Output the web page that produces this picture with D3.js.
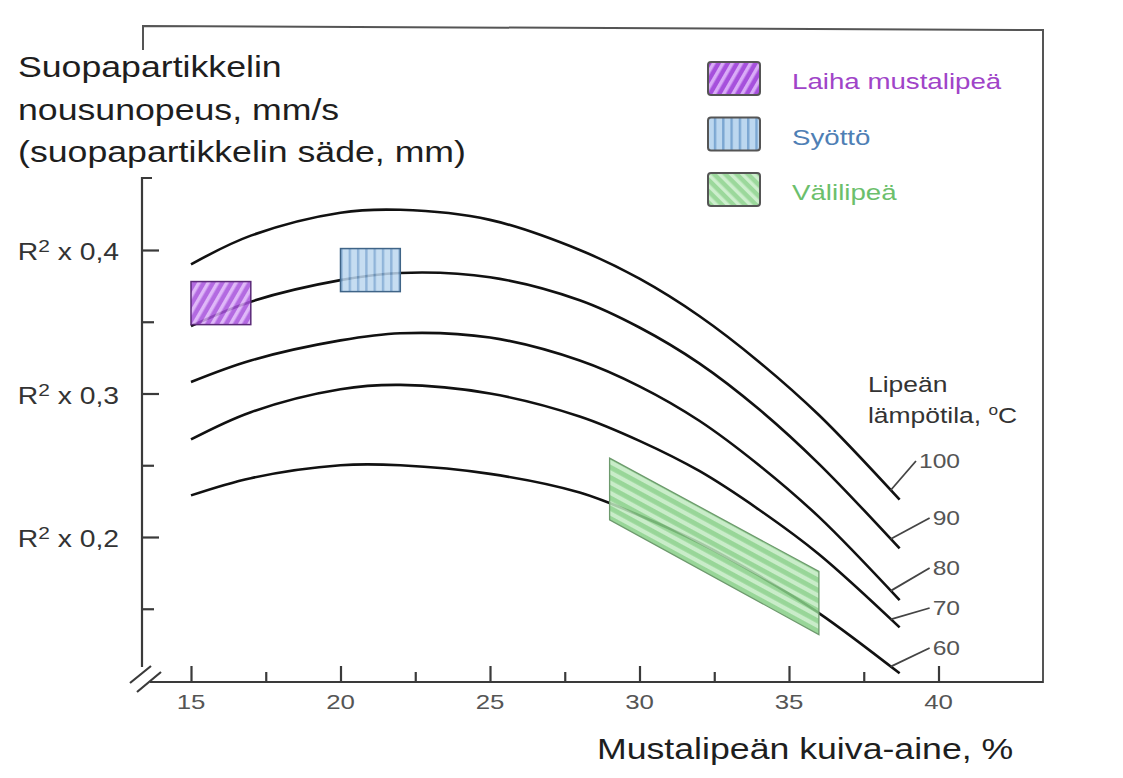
<!DOCTYPE html>
<html>
<head>
<meta charset="utf-8">
<script src="https://cdn.jsdelivr.net/npm/d3@7"></script>
<style>
  html, body { margin: 0; padding: 0; background: #ffffff; }
  svg { display: block; }
</style>
</head>
<body>
<svg id="chart" width="1123" height="778"></svg>
<script>
// ---- data -------------------------------------------------------------
// Dry solids content of black liquor, %
const solidsContent = [15, 17, 20, 22, 25, 28, 30, 32, 34, 36, 38.7];
// Rise velocity of soap particles (as multiple of R^2) per liquor temperature
const rise100 = [0.390, 0.410, 0.426, 0.428, 0.421, 0.400, 0.380, 0.354, 0.322, 0.285, 0.226];
const rise90  = [0.347, 0.364, 0.379, 0.384, 0.381, 0.365, 0.346, 0.321, 0.289, 0.251, 0.192];
const rise80  = [0.308, 0.323, 0.337, 0.342, 0.339, 0.323, 0.305, 0.281, 0.250, 0.214, 0.156];
const rise70  = [0.268, 0.287, 0.303, 0.306, 0.300, 0.284, 0.267, 0.246, 0.219, 0.188, 0.137];
const rise60  = [0.229, 0.241, 0.250, 0.250, 0.244, 0.231, 0.215, 0.196, 0.173, 0.147, 0.105];
const temperatures = ["100", "90", "80", "70", "60"];
const riseSeries = [rise100, rise90, rise80, rise70, rise60];

// Liquor zones (solids range and rise-velocity range)
const weakLiquorX = [15, 17];
const weakLiquorY = [0.348, 0.378];
const feedX = [20, 22];
const feedY = [0.371, 0.401];
const intermediateX = [29, 36];
const intermediateTop = [0.255, 0.176];
const intermediateBottom = [0.212, 0.132];

// Axis ticks and labels
const xMajorTicks = [15, 20, 25, 30, 35, 40];
const xMinorTicks = [17.5, 22.5, 27.5, 32.5, 37.5];
const yMajorTicks = [0.2, 0.3, 0.4];
const yMinorTicks = [0.15, 0.25, 0.35];
const yTickLabels = ["0,2", "0,3", "0,4"];

const legendLabels = ["Laiha mustalipeä", "Syöttö", "Välilipeä"];
const titleLines = ["Suopapartikkelin", "nousunopeus, mm/s", "(suopapartikkelin säde, mm)"];
const xTitle = "Mustalipeän kuiva-aine, %";

// ---- layout -----------------------------------------------------------
const SX = 1.23;                 // horizontal stretch of lettering
const FONT = "'Liberation Sans', Arial, sans-serif";
const INK = "#1e1e1e";
const tempLabelBaseline = [468, 525, 575, 615, 655];

const svg = d3.select("#chart");
const x = d3.scaleLinear().domain([15, 40]).range([191, 938.5]);
const y = d3.scaleLinear().domain([0.2, 0.4]).range([537, 250]);

function stretchedText(parent, px, py, size, anchor, color) {
  return parent.append("text")
    .attr("transform", `translate(${px},${py}) scale(${SX},1)`)
    .attr("font-family", FONT)
    .attr("font-size", size)
    .attr("text-anchor", anchor)
    .attr("fill", color);
}

// ---- hatch patterns ---------------------------------------------------
const defs = svg.append("defs");
function stripes(id, period, stripeW, base, stripe, angle) {
  const p = defs.append("pattern")
    .attr("id", id)
    .attr("patternUnits", "userSpaceOnUse")
    .attr("width", period).attr("height", period)
    .attr("patternTransform", `rotate(${angle})`);
  p.append("rect").attr("width", period).attr("height", period).attr("fill", base);
  p.append("rect").attr("width", stripeW).attr("height", period).attr("fill", stripe);
}
stripes("hatchWeak", 8, 3.5, "#a650dc", "#d9abf7", 30);
stripes("hatchFeed", 8.3, 2.4, "#bcd7ef", "#7ca7d2", 0);
stripes("hatchInter", 9, 4.2, "#86cf86", "#bfe9bf", -61.5);
stripes("hatchInterKey", 8, 3.5, "#9bd89b", "#cdeecd", -45);

// ---- frame and axes ---------------------------------------------------
const frame = svg.append("g").attr("fill", "none").attr("stroke", "#555").attr("stroke-width", 2);
frame.append("path").attr("d", "M143,50 L143,26 L1043,30 L1043,683");

const axisColor = "#3a3a3a";
const axes = svg.append("g").attr("fill", "none").attr("stroke", axisColor).attr("stroke-width", 2.2);
axes.append("path").attr("d", "M152,178 L142,178 L142,667");
axes.append("path").attr("d", `M150,682 L1043,682`);
// axis break
axes.append("path").attr("d", "M130,683 L151,666 M137,692 L161,672");

function tickAxis(axisFn, scale, values, size, tx, ty) {
  const g = svg.append("g").attr("transform", `translate(${tx},${ty})`)
    .call(axisFn(scale).tickValues(values).tickSize(size).tickFormat(""));
  g.select(".domain").remove();
  g.selectAll(".tick line").attr("stroke", axisColor).attr("stroke-width", 2.2);
  return g;
}
tickAxis(d3.axisRight, y, yMajorTicks, 17, 142, 0);
tickAxis(d3.axisRight, y, yMinorTicks, 12, 142, 0);
tickAxis(d3.axisTop, x, xMajorTicks, 16, 0, 682);
tickAxis(d3.axisTop, x, xMinorTicks, 10, 0, 682);

// x tick labels
xMajorTicks.forEach(v => {
  stretchedText(svg, x(v), 709, 21, "middle", "#555").text(v);
});

// y tick labels: R² x value
yMajorTicks.forEach((v, i) => {
  const t = stretchedText(svg, 119, y(v) + 10, 23, "end", "#333");
  t.append("tspan").text("R");
  t.append("tspan").attr("font-size", 17).attr("dy", -8).text("2");
  t.append("tspan").attr("dy", 8).text(" x " + yTickLabels[i]);
});

// ---- curves -----------------------------------------------------------
const line = d3.line()
  .x(d => x(d[0]))
  .y(d => y(d[1]))
  .curve(d3.curveCatmullRom.alpha(0.5));

const curves = svg.append("g");
riseSeries.forEach(series => {
  curves.append("path")
    .datum(d3.zip(solidsContent, series))
    .attr("d", line)
    .attr("fill", "none")
    .attr("stroke", "#111")
    .attr("stroke-width", 2.6);
});

// ---- liquor zones -----------------------------------------------------
const zones = svg.append("g");
zones.append("rect")
  .attr("x", x(weakLiquorX[0])).attr("y", y(weakLiquorY[1]))
  .attr("width", x(weakLiquorX[1]) - x(weakLiquorX[0]))
  .attr("height", y(weakLiquorY[0]) - y(weakLiquorY[1]))
  .attr("fill", "url(#hatchWeak)").attr("fill-opacity", 0.85)
  .attr("stroke", "#5b2a78").attr("stroke-width", 1.5);

zones.append("rect")
  .attr("x", x(feedX[0])).attr("y", y(feedY[1]))
  .attr("width", x(feedX[1]) - x(feedX[0]))
  .attr("height", y(feedY[0]) - y(feedY[1]))
  .attr("fill", "url(#hatchFeed)").attr("fill-opacity", 0.85)
  .attr("stroke", "#3f6487").attr("stroke-width", 1.5);

const band = [
  [intermediateX[0], intermediateTop[0]],
  [intermediateX[1], intermediateTop[1]],
  [intermediateX[1], intermediateBottom[1]],
  [intermediateX[0], intermediateBottom[0]]
];
zones.append("path")
  .attr("d", "M" + band.map(d => [x(d[0]), y(d[1])].join(",")).join("L") + "Z")
  .attr("fill", "url(#hatchInter)").attr("fill-opacity", 0.85)
  .attr("stroke", "#6d9a6d").attr("stroke-width", 1.3);

// ---- temperature labels with leaders -----------------------------------
stretchedText(svg, 868, 392, 21.5, "start", "#333").text("Lipeän");
const tl = stretchedText(svg, 868, 423, 21.5, "start", "#333");
tl.append("tspan").text("lämpötila, ");
tl.append("tspan").attr("font-size", 14).attr("dy", -8).text("o");
tl.append("tspan").attr("dy", 8).text("C");

const nEnd = solidsContent.length - 1;
temperatures.forEach((lbl, i) => {
  const s = riseSeries[i];
  const x0 = solidsContent[nEnd - 1], x1 = solidsContent[nEnd];
  const t = (38.4 - x0) / (x1 - x0);
  const sx = x(38.4);
  const sy = y(s[nEnd - 1] + (s[nEnd] - s[nEnd - 1]) * t);
  const txt = stretchedText(svg, 960, tempLabelBaseline[i], 20, "end", "#555").text(lbl);
  const w = txt.node().getComputedTextLength() * SX;
  svg.append("line")
    .attr("x1", sx).attr("y1", sy)
    .attr("x2", 960 - w - 3).attr("y2", tempLabelBaseline[i] - 7)
    .attr("stroke", "#444").attr("stroke-width", 1.8);
});

// ---- axis titles --------------------------------------------------------
titleLines.forEach((s, i) => {
  stretchedText(svg, 18, 77 + i * 42.5, 29, "start", INK).text(s);
});
stretchedText(svg, 597, 759, 29, "start", INK).text(xTitle);

// ---- legend -----------------------------------------------------------
const legendFills = ["url(#hatchWeak)", "url(#hatchFeed)", "url(#hatchInterKey)"];
const legendText = ["#a044c8", "#4f7fb5", "#6cbf6c"];
const legend = svg.append("g");
legendLabels.forEach((lbl, i) => {
  const cy = 79 + i * 55.5;
  legend.append("rect")
    .attr("x", 708).attr("y", cy - 17).attr("width", 52).attr("height", 33)
    .attr("rx", 3)
    .attr("fill", legendFills[i])
    .attr("stroke", "#555").attr("stroke-width", 2);
  stretchedText(legend, 792, cy + 10, 22.5, "start", legendText[i]).text(lbl);
});
</script>
</body>
</html>
